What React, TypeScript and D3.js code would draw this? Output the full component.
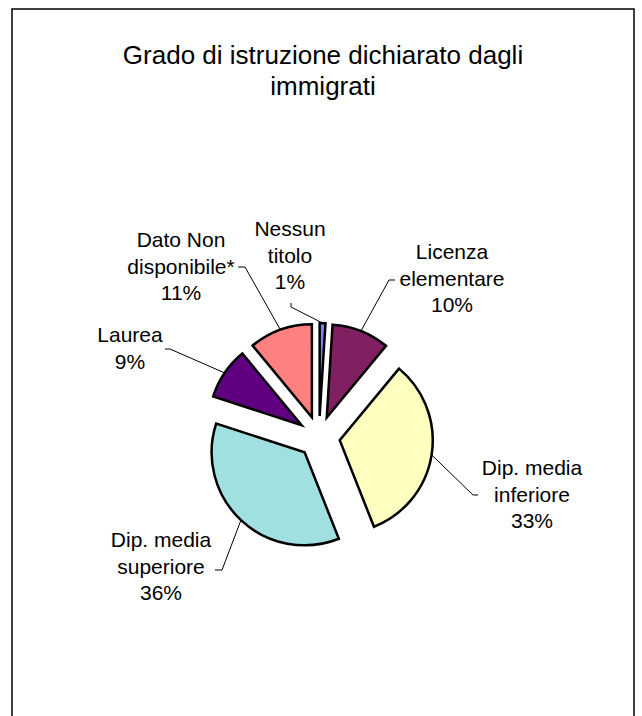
import React from "react";
import * as d3 from "d3";

const categories = [
  ["Nessun", "titolo"],
  ["Licenza", "elementare"],
  ["Dip. media", "inferiore"],
  ["Dip. media", "superiore"],
  ["Laurea"],
  ["Dato Non", "disponibile*"],
];
const values = [1, 10, 33, 36, 9, 11];
const colors = ["#8080ff", "#802060", "#ffffc0", "#a0e0e0", "#600080", "#ff8080"];
const titleLines = ["Grado di istruzione dichiarato dagli", "immigrati"];

// layout (relative to pie centre)
const labelPos = [
  [-29, -201],
  [133, -178],
  [213, 38],
  [-158, 110],
  [-189, -95],
  [-138, -190],
];
const leaderElbow = [
  [[-28, -130], [-28, -134]],
  [[70, -157], [76, -157]],
  [[154, 58], [159, 58]],
  [[-97, 133], [-104, 133]],
  [[-149, -88], [-154, -88]],
  [[-74, -170], [-81, -170]],
];

const W = 642;
const H = 716;
const CX = 319;
const CY = 437;
const R = 93;
const EXPLODE = 21;
const LINE_H = 26.5;

export default function App() {
  const total = d3.sum(values);
  const pie = d3.pie<number>().sort(null).startAngle(0).endAngle(2 * Math.PI);
  const arcs = pie(values);
  const arc = d3.arc<d3.PieArcDatum<number>>().innerRadius(0).outerRadius(R);

  return (
    <svg
      width={W}
      height={H}
      style={{ position: "absolute", left: 0, top: 0, background: "#fff" }}
      fontFamily="'Liberation Sans', Arial, sans-serif"
    >
      <rect x={12} y={9} width={622} height={800} fill="#fff" stroke="#000" strokeWidth={1.5} />
      {titleLines.map((t, i) => (
        <text key={i} x={323} y={64 + i * 31} textAnchor="middle" fontSize={26} fill="#000">
          {t}
        </text>
      ))}
      <g transform={`translate(${CX},${CY})`}>
        {arcs.map((a, i) => {
          const mid = (a.startAngle + a.endAngle) / 2;
          const dx = Math.sin(mid) * EXPLODE;
          const dy = -Math.cos(mid) * EXPLODE;
          return (
            <path
              key={i}
              d={arc(a) || ""}
              transform={`translate(${dx},${dy})`}
              fill={colors[i]}
              stroke="#000"
              strokeWidth={2.5}
              strokeLinejoin="miter"
            />
          );
        })}
        {arcs.map((a, i) => {
          const mid = (a.startAngle + a.endAngle) / 2;
          const sx = Math.sin(mid) * (EXPLODE + R);
          const sy = -Math.cos(mid) * (EXPLODE + R);
          const [e1, e2] = leaderElbow[i];
          const line = d3.line()([[sx, sy], e1 as [number, number], e2 as [number, number]]);
          return <path key={"l" + i} d={line || ""} fill="none" stroke="#000" strokeWidth={1} />;
        })}
        {arcs.map((a, i) => {
          const [lx, ly] = labelPos[i];
          const pct = d3.format(".0%")(values[i] / total);
          const lines = [...categories[i], pct];
          return (
            <text key={"t" + i} textAnchor="middle" fontSize={21} fill="#000">
              {lines.map((s, j) => (
                <tspan key={j} x={lx} y={ly + j * LINE_H}>
                  {s}
                </tspan>
              ))}
            </text>
          );
        })}
      </g>
    </svg>
  );
}
